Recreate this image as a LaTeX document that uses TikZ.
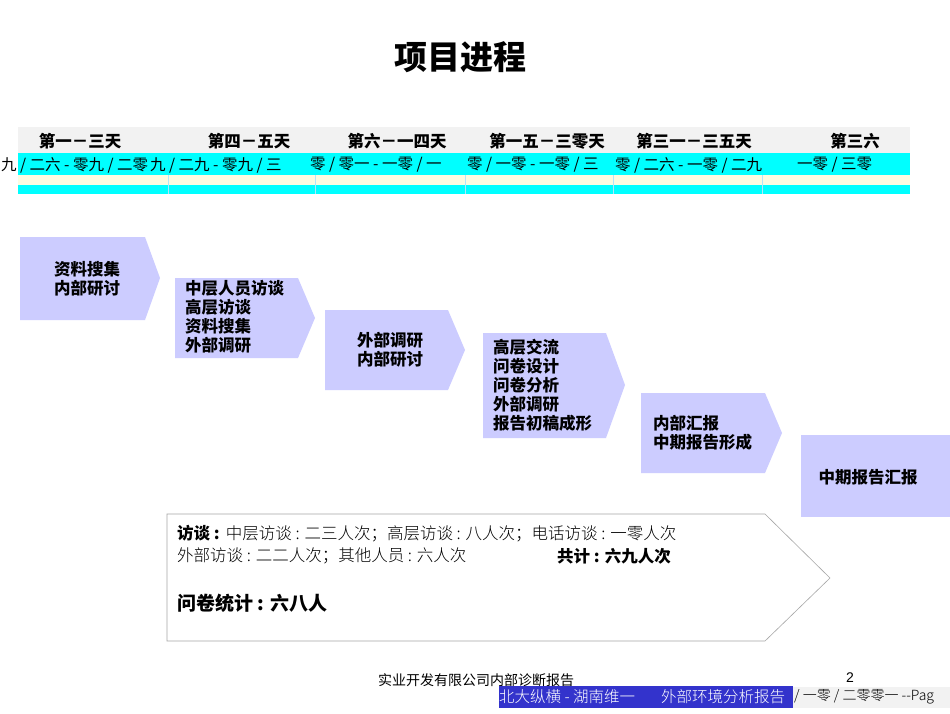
\documentclass[tikz,border=0pt]{standalone}
\usepackage{fontspec}
\setmainfont{Liberation Sans}
\newfontfamily\cjk{Noto Sans CJK SC}
\newfontfamily\cjkserif{Noto Sans CJK SC Light}
\begin{document}
\begin{tikzpicture}[x=1pt,y=-1pt,
  stage/.style={fill=lav,draw=none},
  lbl/.style={font=\cjk\fontsize{16.5}{19}\selectfont\bfseries,align=left,anchor=west,inner sep=0},
  hdr/.style={font=\cjk\fontsize{16.5}{19}\selectfont\bfseries,inner sep=0},
  dat/.style={font=\cjk\fontsize{15.5}{17}\selectfont,inner sep=0}]
\definecolor{lav}{RGB}{204,204,255}
\definecolor{cyanrow}{RGB}{0,255,255}
\definecolor{greyrow}{RGB}{242,242,242}
\definecolor{yelrow}{RGB}{252,252,225}
\definecolor{barblue}{RGB}{51,51,204}
\useasboundingbox (0,0) rectangle (950,713);
\fill[white] (0,0) rectangle (950,713);
\node[font=\cjk\fontsize{33}{36}\selectfont\bfseries] (title) at (460,57) {项目进程};
% table
\fill[greyrow] (18,127) rectangle (910,153);
\fill[cyanrow] (18,153) rectangle (910,175);
\fill[yelrow] (18,175) rectangle (910,185);
\fill[cyanrow] (18,185) rectangle (910,194);
\foreach \x in {168,315,465,613,762}{\draw[cyan!30,line width=0.4pt] (\x,175) -- (\x,194);}
\node[hdr] (h1) at (80,141) {第一－三天};
\node[hdr] (h2) at (249,141) {第四－五天};
\node[hdr] (h3) at (397,141) {第六－一四天};
\node[hdr] (h4) at (547,141) {第一五－三零天};
\node[hdr] (h5) at (694,141) {第三一－三五天};
\node[hdr] (h6) at (855,141) {第三六};
\node[dat,anchor=west] (d1) at (1,165) {九 / 二六 - 零九 / 二零};
\node[dat,anchor=west] (d2) at (150,165) {九 / 二九 - 零九 / 三};
\node[dat,anchor=west] (d3) at (310,165) {零 / 零一 - 一零 / 一};
\node[dat,anchor=west] (d4) at (467,165) {零 / 一零 - 一零 / 三};
\node[dat,anchor=west] (d5) at (615,165) {零 / 二六 - 一零 / 二九};
\node[dat,anchor=west] (d6) at (797,165) {一零 / 三零};
% stages
\fill[stage] (20,237) -- (145,237) -- (160,278) -- (145,320) -- (20,320) -- cycle;
\node[lbl,anchor=center,align=center] (s1) at (87,279) {资料搜集\\内部研讨};
\fill[stage] (175,278) -- (298,278) -- (315,318) -- (298,358) -- (175,358) -- cycle;
\node[lbl] (s2) at (185,317) {中层人员访谈\\高层访谈\\资料搜集\\外部调研};
\fill[stage] (325,310) -- (448,310) -- (465,350) -- (448,390) -- (325,390) -- cycle;
\node[lbl,anchor=center,align=center] (s3) at (390,350) {外部调研\\内部研讨};
\fill[stage] (483,333) -- (606,333) -- (625,385) -- (606,438) -- (483,438) -- cycle;
\node[lbl] (s4) at (493,385) {高层交流\\问卷设计\\问卷分析\\外部调研\\报告初稿成形};
\fill[stage] (641,393) -- (765,393) -- (782,433) -- (765,473) -- (641,473) -- cycle;
\node[lbl] (s5) at (653,433) {内部汇报\\中期报告形成};
\fill[stage] (801,435) rectangle (950,517);
\node[lbl,anchor=center] (s6) at (868,477) {中期报告汇报};
% summary
\draw[gray!70,line width=0.6pt] (167,514) -- (765,514) -- (830,578) -- (765,641) -- (167,641) -- cycle;
\node[anchor=west,inner sep=0,font=\fontsize{16.5}{19}\selectfont] (t1) at (177,534) {{\cjk\bfseries 访谈 :} {\cjkserif 中层访谈 : 二三人次；高层访谈 : 八人次；电话访谈 : 一零人次}};
\node[anchor=west,inner sep=0,font=\cjkserif\fontsize{16.5}{19}\selectfont] (t2) at (177,556) {外部访谈 : 二二人次；其他人员 : 六人次};
\node[anchor=west,inner sep=0,font=\cjk\fontsize{16.5}{19}\selectfont\bfseries\itshape] (t3) at (557,556) {共计 : 六九人次};
\node[anchor=west,inner sep=0,font=\cjk\fontsize{19}{22}\selectfont\bfseries] (t4) at (177,603) {问卷统计 : 六八人};
% footer
\node[font=\cjk\fontsize{14}{16}\selectfont] (foot) at (476,680) {实业开发有限公司内部诊断报告};
\node[font=\fontsize{14}{16}\selectfont] (pg) at (850,678) {2};
\fill[greyrow] (793,687) rectangle (950,708);
\fill[barblue] (499,686) rectangle (793,708);
\node[anchor=west,inner sep=0,text=white,font=\cjkserif\fontsize{15.5}{17}\selectfont] (b1) at (499,697) {北大纵横 - 湖南维一\hspace{26pt}外部环境分析报告};
\node[anchor=west,inner sep=0,font=\cjkserif\fontsize{14}{16}\selectfont] (b2) at (794,697) {/ 一零 / 二零零一 --Pag};
\end{tikzpicture}
\end{document}
